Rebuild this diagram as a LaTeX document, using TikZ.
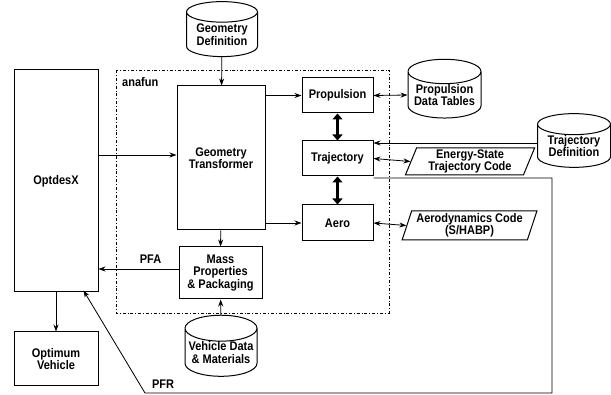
\documentclass[tikz,border=0pt]{standalone}
\usepackage{fontspec}
\setmainfont{Liberation Sans}[FakeStretch=0.88]
\usetikzlibrary{shapes.geometric,arrows.meta}

\begin{document}
\begin{tikzpicture}[x=1pt,y=-1pt,
  every node/.style={font=\fontsize{12.5}{12.5}\selectfont\bfseries, align=center, inner sep=0pt},
  blk/.style={draw, line width=1pt},
  store/.style={draw, line width=1pt, cylinder, shape border rotate=90, aspect=0.4},
  prog/.style={draw, line width=1pt, trapezium, trapezium left angle=70, trapezium right angle=110, trapezium stretches=true},
  flow/.style={line width=0.8pt, -{Stealth[length=7pt,width=5pt]}},
  both/.style={line width=0.8pt, {Stealth[length=7pt,width=5pt]}-{Stealth[length=7pt,width=5pt]}},
  fat/.style={line width=3pt, {Triangle[length=6pt,width=10pt]}-{Triangle[length=6pt,width=10pt]}}]
\useasboundingbox (0,0) rectangle (611,395);
\draw [line width=0.8pt, dash dot] (116,70) rectangle (389,313);
\node [anchor=west] (anafun) at (122,82) {anafun};
\node [blk, minimum width=84pt, minimum height=222pt] (optdesx) at (56,181) {OptdesX};
\node [blk, minimum width=84pt, minimum height=54pt] (optimum) at (56,359) {Optimum\\Vehicle};
\node [store, minimum width=71pt, minimum height=55pt] (geodef) at (222,34.5) {Geometry\\Definition};
\node [blk, minimum width=88pt, minimum height=144pt] (geotrans) at (221,158) {Geometry\\Transformer};
\node [blk, minimum width=71pt, minimum height=35pt] (prop) at (337.5,95.5) {Propulsion};
\node [blk, minimum width=71pt, minimum height=35pt] (traj) at (337.5,158.5) {Trajectory};
\node [blk, minimum width=71pt, minimum height=36pt] (aero) at (337.5,223) {Aero};
\node [blk, minimum width=83pt, minimum height=52pt] (mass) at (220.5,273) {Mass\\Properties\\\& Packaging};
\node [store, minimum width=72pt, minimum height=55pt] (vehdata) at (221,352.5) {Vehicle Data\\\& Materials};
\node [store, minimum width=73pt, minimum height=54pt] (proptab) at (444.5,95) {Propulsion\\Data Tables};
\node [store, minimum width=73pt, minimum height=52pt] (trajdef) at (574,146) {Trajectory\\Definition};
\node [prog, minimum width=130pt, minimum height=27pt] (energy) at (470,161.5) {Energy-State\\Trajectory Code};
\node [prog, minimum width=135pt, minimum height=29pt] (aerocode) at (469.5,225.5) {Aerodynamics Code\\(S/HABP)};
\coordinate (pfra) at (552,178);
\coordinate (pfrb) at (552,393);
\coordinate (pfrc) at (145,393);
\coordinate (pfrd) at ([xshift=-15pt,yshift=2pt]optdesx.south east);
\draw [flow] (geodef) -- (geotrans);
\draw [flow] (optdesx.east |- 0,155) -- (geotrans.west |- 0,155);
\draw [flow] (geotrans.east |- prop.west) -- (prop.west);
\draw [flow] (geotrans.east |- aero.west) -- (aero.west);
\draw [fat] (prop) -- (traj);
\draw [fat] (traj) -- (aero);
\draw [flow] (geotrans) -- (mass);
\draw [flow] (vehdata) -- (mass);
\draw [flow] (mass.west |- 0,269) -- node [above=5pt, pos=0.35] {PFA} (optdesx.east |- 0,269);
\draw [both] (prop.east) -- (proptab.west);
\draw [flow] (trajdef.west |- 0,143) -- (traj.east |- 0,143);
\draw [both] (traj.east) -- (energy.west);
\draw [both] (aero.east) -- (aerocode.west);
\draw [flow] (traj.east |- pfra) -- (pfra) -- (pfrb) -- (pfrc) -- (pfrd);
\node (pfr) at (163,384) {PFR};
\draw [flow] (optdesx) -- (optimum);
\end{tikzpicture}
\end{document}
